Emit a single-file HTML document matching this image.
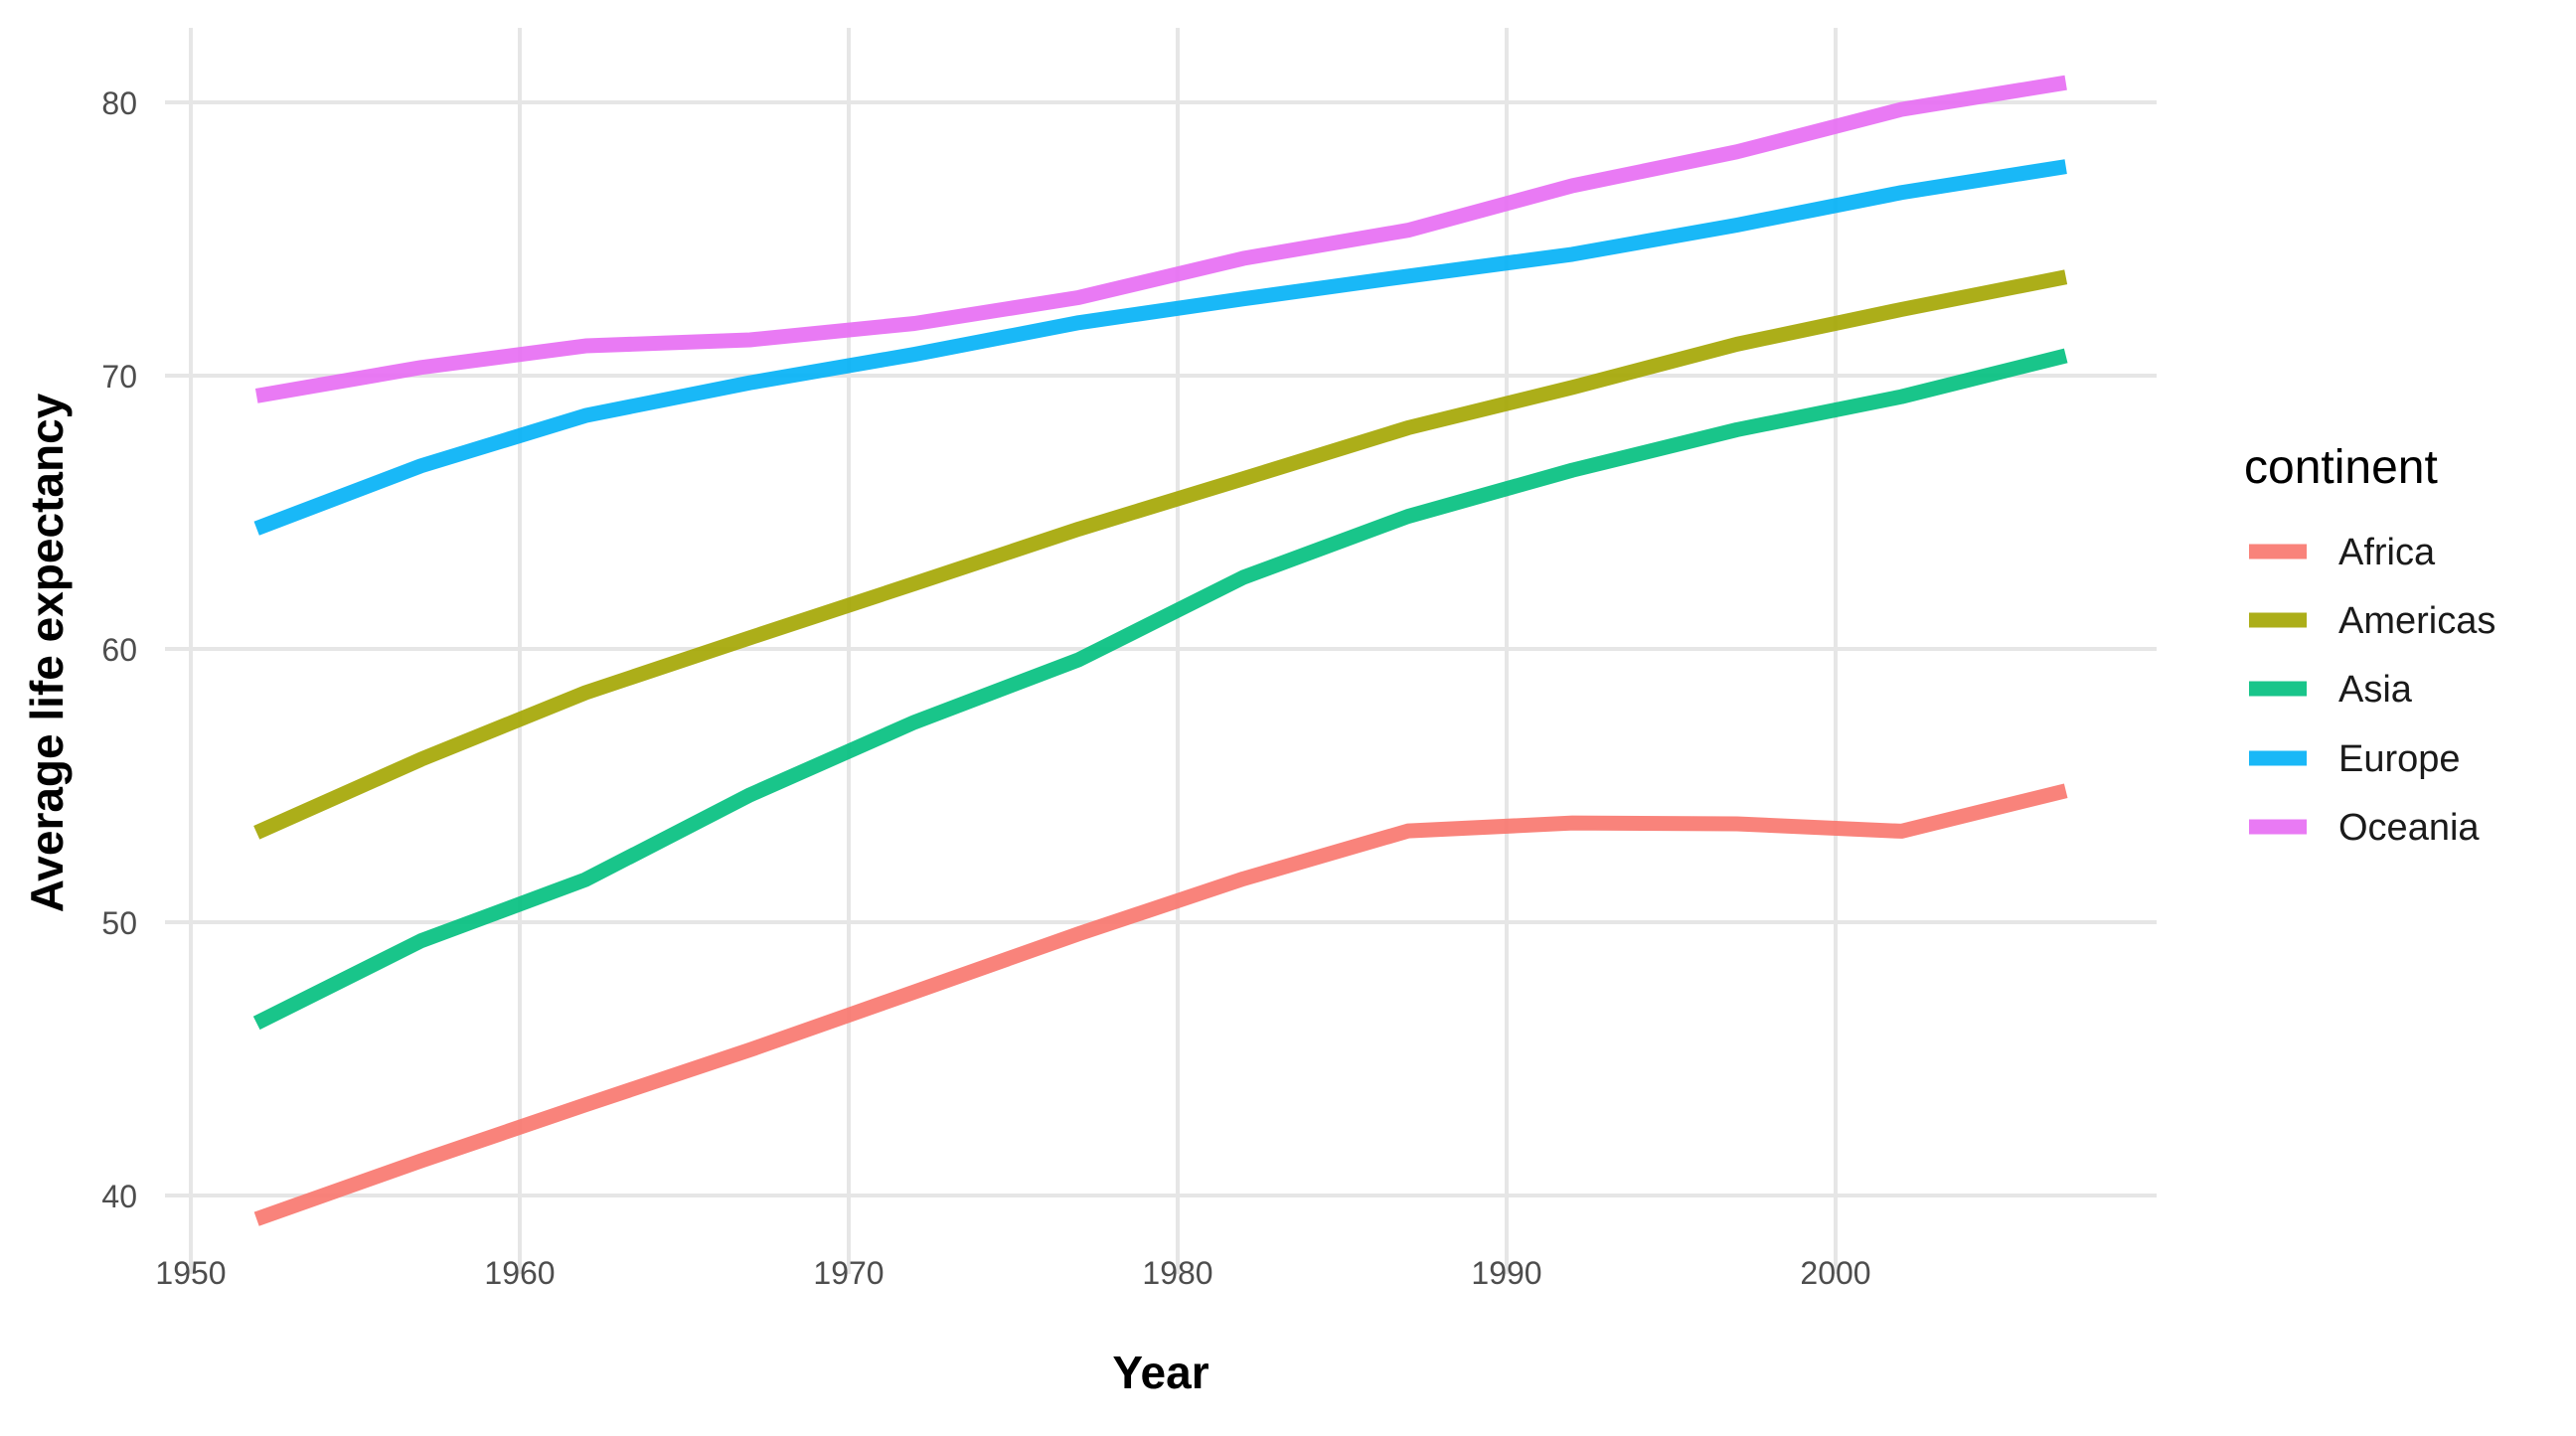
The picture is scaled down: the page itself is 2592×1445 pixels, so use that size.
<!DOCTYPE html>
<html><head><style>
body{margin:0;background:#fff;}
svg text{font-family:"Liberation Sans",sans-serif;}
</style></head><body>
<svg width="2592" height="1440" viewBox="0 0 2592 1440" xmlns="http://www.w3.org/2000/svg">
<g stroke="#e6e6e6" stroke-width="4">
<line x1="192" y1="28" x2="192" y2="1282"/>
<line x1="523" y1="28" x2="523" y2="1282"/>
<line x1="854" y1="28" x2="854" y2="1282"/>
<line x1="1185" y1="28" x2="1185" y2="1282"/>
<line x1="1516" y1="28" x2="1516" y2="1282"/>
<line x1="1847" y1="28" x2="1847" y2="1282"/>
<line x1="166" y1="103" x2="2170" y2="103"/>
<line x1="166" y1="378" x2="2170" y2="378"/>
<line x1="166" y1="653" x2="2170" y2="653"/>
<line x1="166" y1="928" x2="2170" y2="928"/>
<line x1="166" y1="1203" x2="2170" y2="1203"/>
</g>
<g transform="translate(-64353,2303) scale(33.1,-27.5)" fill="none" stroke-width="15" stroke-opacity="0.9" stroke-linejoin="round">
<polyline vector-effect="non-scaling-stroke" stroke="#F8766D" points="1952,39.14 1957,41.27 1962,43.32 1967,45.33 1972,47.45 1977,49.58 1982,51.59 1987,53.34 1992,53.63 1997,53.60 2002,53.33 2007,54.81"/>
<polyline vector-effect="non-scaling-stroke" stroke="#A3A500" points="1952,53.28 1957,55.96 1962,58.40 1967,60.41 1972,62.39 1977,64.39 1982,66.23 1987,68.09 1992,69.57 1997,71.15 2002,72.42 2007,73.61"/>
<polyline vector-effect="non-scaling-stroke" stroke="#00BF7D" points="1952,46.31 1957,49.32 1962,51.56 1967,54.66 1972,57.32 1977,59.61 1982,62.62 1987,64.85 1992,66.54 1997,68.02 2002,69.23 2007,70.73"/>
<polyline vector-effect="non-scaling-stroke" stroke="#00B0F6" points="1952,64.41 1957,66.70 1962,68.54 1967,69.74 1972,70.78 1977,71.94 1982,72.81 1987,73.64 1992,74.44 1997,75.51 2002,76.70 2007,77.65"/>
<polyline vector-effect="non-scaling-stroke" stroke="#E76BF3" points="1952,69.26 1957,70.30 1962,71.09 1967,71.31 1972,71.91 1977,72.86 1982,74.29 1987,75.32 1992,76.95 1997,78.19 2002,79.74 2007,80.72"/>
</g>
<g fill="#4d4d4d" font-size="32" text-anchor="end">
<text x="138" y="115">80</text>
<text x="138" y="390">70</text>
<text x="138" y="665">60</text>
<text x="138" y="940">50</text>
<text x="138" y="1215">40</text>
</g>
<g fill="#4d4d4d" font-size="32" text-anchor="middle">
<text x="192" y="1292">1950</text>
<text x="523" y="1292">1960</text>
<text x="854" y="1292">1970</text>
<text x="1185" y="1292">1980</text>
<text x="1516" y="1292">1990</text>
<text x="1847" y="1292">2000</text>
</g>
<text x="1168" y="1397" font-size="46" font-weight="bold" text-anchor="middle" fill="#000">Year</text>
<text transform="translate(63,657) rotate(-90)" font-size="46" font-weight="bold" text-anchor="middle" fill="#000">Average life expectancy</text>
<text x="2258" y="486" font-size="48" fill="#000">continent</text>
<g stroke-width="15" stroke-opacity="0.9">
<line x1="2263" y1="555" x2="2321" y2="555" stroke="#F8766D"/>
<line x1="2263" y1="624" x2="2321" y2="624" stroke="#A3A500"/>
<line x1="2263" y1="693" x2="2321" y2="693" stroke="#00BF7D"/>
<line x1="2263" y1="763" x2="2321" y2="763" stroke="#00B0F6"/>
<line x1="2263" y1="832" x2="2321" y2="832" stroke="#E76BF3"/>
</g>
<g font-size="38" fill="#1a1a1a">
<text x="2353" y="568">Africa</text>
<text x="2353" y="637">Americas</text>
<text x="2353" y="706">Asia</text>
<text x="2353" y="776">Europe</text>
<text x="2353" y="845">Oceania</text>
</g>
</svg>
</body></html>
